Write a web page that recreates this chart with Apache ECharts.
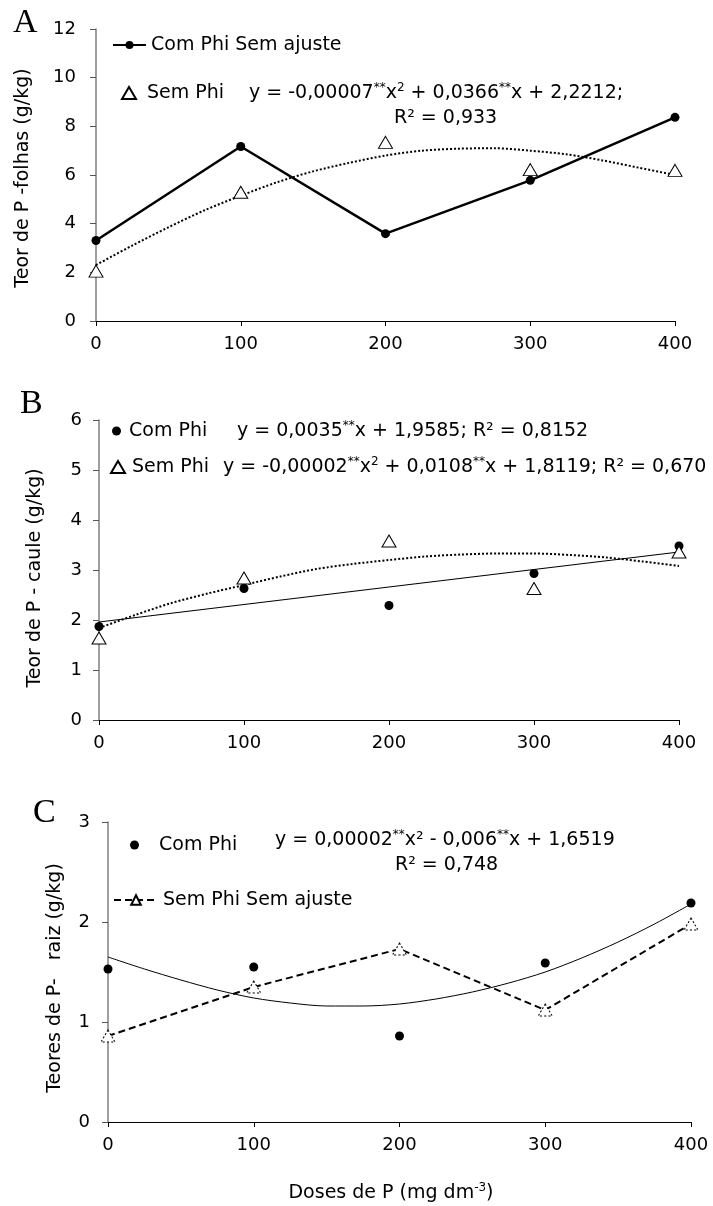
<!DOCTYPE html>
<html>
<head>
<meta charset="utf-8">
<script src="https://cdn.jsdelivr.net/npm/echarts@6/dist/echarts.min.js"></script>
<style>
  html, body { margin: 0; padding: 0; background: #fff; }
  #chart { width: 713px; height: 1206px; }
</style>
</head>
<body>
<div id="chart"></div>
<script>
// doses de P (mg dm-3)
const doses = [0, 100, 200, 300, 400];
const trendDoses = [0, 25, 50, 75, 100, 125, 150, 175, 200, 225, 250, 275, 300, 325, 350, 375, 400];
const lineDoses = [0, 400];

// A - folhas
const folhasComPhi = [3.31, 7.17, 3.59, 5.78, 8.37];
const folhasSemPhi = [2.05, 5.29, 7.34, 6.22, 6.19];
const folhasSemPhiAjuste = [2.3, 3.1, 3.85, 4.55, 5.15, 5.7, 6.15, 6.5, 6.8, 7.0, 7.08, 7.1, 7.0, 6.85, 6.6, 6.3, 6.0];

// B - caule
const cauleComPhi = [1.87, 2.63, 2.29, 2.93, 3.48];
const cauleSemPhi = [1.64, 2.84, 3.58, 2.63, 3.36];
const cauleComPhiAjuste = [1.96, 3.36];
const cauleSemPhiAjuste = [1.84, 2.1, 2.34, 2.53, 2.7, 2.87, 3.02, 3.12, 3.2, 3.27, 3.31, 3.33, 3.33, 3.3, 3.25, 3.17, 3.08];

// C - raiz
const raizComPhi = [1.53, 1.55, 0.86, 1.59, 2.19];
const raizSemPhi = [0.86, 1.35, 1.73, 1.12, 1.98];
const raizComPhiAjuste = [1.65, 1.53, 1.42, 1.32, 1.24, 1.19, 1.16, 1.16, 1.18, 1.23, 1.3, 1.39, 1.5, 1.64, 1.8, 1.98, 2.18];

const FONT = "DejaVu Sans";
const SERIF = "Liberation Serif";

const chart = echarts.init(document.getElementById("chart"));

const pairs = (xs, ys) => xs.map((x, i) => [x, ys[i]]);

const xAxisFor = (gridIndex) => ({
  type: "value",
  gridIndex,
  min: 0,
  max: 400,
  interval: 100,
  axisLine: { show: true, onZero: false, lineStyle: { color: "#000", width: 1 } },
  axisTick: { show: true, length: 5, lineStyle: { color: "#000" } },
  axisLabel: { margin: 14, fontSize: 18, fontFamily: FONT, color: "#000" },
  splitLine: { show: false },
});

const yAxisFor = (gridIndex, max, interval, margin) => ({
  type: "value",
  gridIndex,
  min: 0,
  max,
  interval,
  axisLine: { show: true, lineStyle: { color: "#7f7f7f", width: 1.5 } },
  axisTick: { show: true, length: 6, lineStyle: { color: "#555" } },
  axisLabel: { margin, fontSize: 18, fontFamily: FONT, color: "#000" },
  splitLine: { show: false },
});

const dot = { symbol: "circle", symbolSize: 9, itemStyle: { color: "#000", opacity: 1 } };
const tri = {
  symbol: "triangle",
  symbolSize: [14, 12],
  itemStyle: { color: "#fff", borderColor: "#000", borderWidth: 1, opacity: 1 },
};

const legendFor = (name, left, top, w, h, gap) => ({
  data: [name],
  left,
  top,
  padding: 0,
  itemWidth: w,
  itemHeight: h,
  selectedMode: false,
  textStyle: {
    fontSize: 19,
    fontFamily: FONT,
    color: "#000",
    lineHeight: 20,
    padding: [0, 0, 0, gap],
  },
});

// texto das equações, com ** e expoente elevados
const t = { fontSize: 19, fontFamily: FONT, color: "#000", lineHeight: 22 };
const s = { fontSize: 12, fontFamily: FONT, color: "#000", lineHeight: 12, verticalAlign: "top" };
const eq = (x, y, text) => ({
  type: "text",
  x,
  y,
  style: { text, rich: { t, s }, verticalAlign: "middle", align: "left" },
});
const plain = (x, y, text) => ({
  type: "text",
  x,
  y,
  style: { text, fontSize: 19, fontFamily: FONT, fill: "#000", verticalAlign: "middle", align: "left" },
});
const letter = (x, y, text) => ({
  type: "text",
  x,
  y,
  style: { text, fontSize: 34, fontFamily: SERIF, fill: "#000", verticalAlign: "middle", align: "left" },
});
const yTitle = (x, y, text) => ({
  type: "text",
  x,
  y,
  rotation: Math.PI / 2,
  style: { text, fontSize: 19, fontFamily: FONT, fill: "#000", align: "center", verticalAlign: "middle" },
});

const option = {
  animation: false,
  backgroundColor: "#fff",
  grid: [
    { left: 96, right: 38, top: 29, height: 292, outerBoundsMode: "none" },
    { left: 99, right: 34, top: 420, height: 300, outerBoundsMode: "none" },
    { left: 108, right: 22, top: 822, height: 300, outerBoundsMode: "none" },
  ],
  xAxis: [xAxisFor(0), xAxisFor(1), xAxisFor(2)],
  yAxis: [yAxisFor(0, 12, 2, 20), yAxisFor(1, 6, 1, 17), yAxisFor(2, 3, 1, 18)],
  legend: [
    legendFor("Com Phi Sem ajuste", 112, 35, 33, 10, 0),
    legendFor("Sem Phi", 121, 83, 14, 12, 6),
    legendFor("Com Phi", 112, 421, 9, 9, 3),
    legendFor("Sem Phi", 110, 457, 14, 12, 2),
    legendFor("Com Phi", 130, 835, 9, 9, 15),
    legendFor("Sem Phi Sem ajuste", 113, 890, 44, 12, 0),
  ],
  series: [
    // A
    {
      name: "Sem Phi ajuste A",
      type: "line",
      xAxisIndex: 0,
      yAxisIndex: 0,
      data: pairs(trendDoses, folhasSemPhiAjuste),
      smooth: 0.3,
      symbol: "none",
      silent: true,
      z: 1,
      lineStyle: { color: "#000", width: 2, type: "dotted" },
    },
    {
      name: "Com Phi Sem ajuste",
      type: "line",
      xAxisIndex: 0,
      yAxisIndex: 0,
      data: pairs(doses, folhasComPhi),
      ...dot,
      z: 3,
      lineStyle: { color: "#000", width: 2.5 },
    },
    {
      name: "Sem Phi",
      type: "scatter",
      xAxisIndex: 0,
      yAxisIndex: 0,
      data: pairs(doses, folhasSemPhi),
      ...tri,
      z: 3,
    },
    // B
    {
      name: "Com Phi ajuste B",
      type: "line",
      xAxisIndex: 1,
      yAxisIndex: 1,
      data: pairs(lineDoses, cauleComPhiAjuste),
      symbol: "none",
      silent: true,
      z: 1,
      lineStyle: { color: "#000", width: 1.2 },
    },
    {
      name: "Sem Phi ajuste B",
      type: "line",
      xAxisIndex: 1,
      yAxisIndex: 1,
      data: pairs(trendDoses, cauleSemPhiAjuste),
      smooth: 0.3,
      symbol: "none",
      silent: true,
      z: 1,
      lineStyle: { color: "#000", width: 2, type: "dotted" },
    },
    {
      name: "Com Phi",
      type: "scatter",
      xAxisIndex: 1,
      yAxisIndex: 1,
      data: pairs(doses, cauleComPhi),
      ...dot,
      z: 3,
    },
    {
      name: "Sem Phi",
      type: "scatter",
      xAxisIndex: 1,
      yAxisIndex: 1,
      data: pairs(doses, cauleSemPhi),
      ...tri,
      z: 3,
    },
    // C
    {
      name: "Com Phi ajuste C",
      type: "line",
      xAxisIndex: 2,
      yAxisIndex: 2,
      data: pairs(trendDoses, raizComPhiAjuste),
      smooth: 0.3,
      symbol: "none",
      silent: true,
      z: 1,
      lineStyle: { color: "#000", width: 1 },
    },
    {
      name: "Com Phi",
      type: "scatter",
      xAxisIndex: 2,
      yAxisIndex: 2,
      data: pairs(doses, raizComPhi),
      ...dot,
      z: 3,
    },
    {
      name: "Sem Phi Sem ajuste",
      type: "line",
      xAxisIndex: 2,
      yAxisIndex: 2,
      data: pairs(doses, raizSemPhi),
      symbol: "triangle",
      symbolSize: [14, 12],
      z: 3,
      lineStyle: { color: "#000", width: 2, type: [7, 4] },
      itemStyle: { color: "#fff", borderColor: "#000", borderWidth: 1, borderType: [2, 2], opacity: 1 },
    },
  ],
  graphic: [
    letter(13, 23, "A"),
    letter(20, 404, "B"),
    letter(33, 813, "C"),
    yTitle(23, 178, "Teor de P -folhas (g/kg)"),
    yTitle(35, 578, "Teor de P - caule (g/kg)"),
    yTitle(55, 978, "Teores de P-   raiz (g/kg)"),
    eq(249, 93, "{t|y = -0,00007}{s|**}{t|x}{s|2}{t| + 0,0366}{s|**}{t|x + 2,2212;}"),
    plain(394, 118, "R² = 0,933"),
    eq(237, 431, "{t|y = 0,0035}{s|**}{t|x + 1,9585; R² = 0,8152}"),
    eq(223, 467, "{t|y = -0,00002}{s|**}{t|x}{s|2}{t| + 0,0108}{s|**}{t|x + 1,8119; R² = 0,670}"),
    eq(275, 840, "{t|y = 0,00002}{s|**}{t|x² - 0,006}{s|**}{t|x + 1,6519}"),
    plain(395, 865, "R² = 0,748"),
    {
      type: "text",
      x: 391,
      y: 1193,
      style: {
        text: "{t|Doses de P (mg dm}{s|-3}{t|)}",
        rich: { t, s },
        align: "center",
        verticalAlign: "middle",
      },
    },
  ],
};

chart.setOption(option);

window.addEventListener("resize", () => {
  chart.resize();
});
</script>
</body>
</html>
